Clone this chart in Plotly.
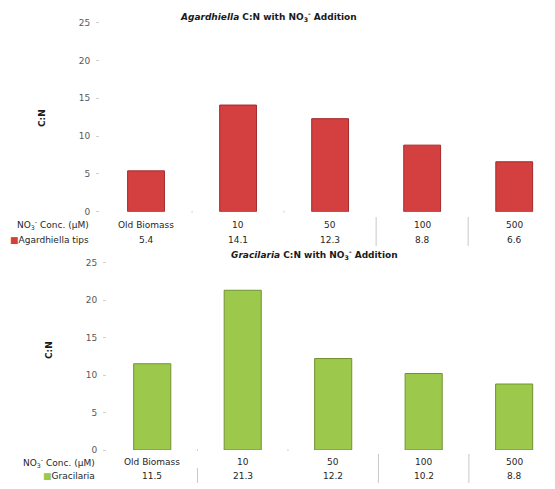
import plotly.graph_objects as go

categories = ["Old Biomass", "10", "50", "100", "500"]
agardhiella = [5.4, 14.1, 12.3, 8.8, 6.6]
gracilaria = [11.5, 21.3, 12.2, 10.2, 8.8]
y_ticks = [0, 5, 10, 15, 20, 25]

W, H = 555, 489
OFF = 8  # page body margin

def py(px):
    return 1 - (px - OFF) / H

def pxx(px):
    return (px - OFF) / W

RED, RED_LINE = "#d43f3f", "#a32a2a"
GREEN, GREEN_LINE = "#9cc84b", "#72922f"
FONT = "DejaVu Sans"
TXT = "#262626"

fig = go.Figure()
fig.add_trace(go.Bar(x=categories, y=agardhiella, xaxis="x", yaxis="y", width=0.40,
                     marker=dict(color=RED, line=dict(color=RED_LINE, width=1)),
                     showlegend=False, hoverinfo="x+y"))
fig.add_trace(go.Bar(x=categories, y=gracilaria, xaxis="x2", yaxis="y2", width=0.41,
                     marker=dict(color=GREEN, line=dict(color=GREEN_LINE, width=1)),
                     showlegend=False, hoverinfo="x+y"))

yax = dict(range=[0, 25], tickvals=y_ticks, showgrid=False, zeroline=False, showline=False,
           ticks="outside", ticklen=3, tickcolor="#d0d0d0", automargin=False,
           ticklabelstandoff=4,
           tickfont=dict(family=FONT, size=9, color="#595959"))
xax = dict(type="category", showgrid=False, zeroline=False, showline=False, automargin=False,
           showticklabels=False, ticks="")

fig.update_layout(
    width=W, height=H, margin=dict(l=0, r=0, t=0, b=0, pad=0, autoexpand=False),
    paper_bgcolor="white", plot_bgcolor="white",
    xaxis=dict(xax, domain=[pxx(100), 1], anchor="y", range=[-0.5, 4.53]),
    yaxis=dict(yax, domain=[py(211.7), py(22.6)], anchor="x"),
    xaxis2=dict(xax, domain=[pxx(107), 1], anchor="y2", range=[-0.5, 4.54]),
    yaxis2=dict(yax, domain=[py(450), py(262.5)], anchor="x2"),
    font=dict(family=FONT, color=TXT),
)

ann = []
def a(**kw):
    kw.setdefault("showarrow", False)
    kw.setdefault("xanchor", "center")
    kw.setdefault("yanchor", "middle")
    ann.append(kw)

a(text="<b><i>Agardhiella</i> C:N with NO<sub>3</sub><sup>-</sup> Addition</b>",
  x=pxx(268), y=py(16), xref="paper", yref="paper", font=dict(size=9, color="#1a1a1a"))
a(text="<b><i>Gracilaria</i> C:N with NO<sub>3</sub><sup>-</sup> Addition</b>",
  x=pxx(314), y=py(254), xref="paper", yref="paper", font=dict(size=9, color="#1a1a1a"))
a(text="<b>C:N</b>", x=pxx(42), y=py(118), xref="paper", yref="paper",
  textangle=-90, font=dict(size=9, color="#1a1a1a"))
a(text="<b>C:N</b>", x=pxx(49), y=py(350), xref="paper", yref="paper",
  textangle=-90, font=dict(size=9, color="#1a1a1a"))

def table(xref, y1, y2, name, color, values, rx):
    a(text="NO<sub>3</sub><sup>-</sup> Conc. (µM)", x=pxx(rx), y=py(y1),
      xref="paper", yref="paper", xanchor="right", font=dict(size=9, color=TXT))
    a(text=f"<span style='color:{color}'>■</span>{name}", x=pxx(rx), y=py(y2),
      xref="paper", yref="paper", xanchor="right", font=dict(size=9, color=TXT))
    for i, (c, v) in enumerate(zip(categories, values)):
        a(text=c, x=i, y=py(y1), xref=xref, yref="paper", font=dict(size=9, color=TXT))
        a(text=f"{v:.1f}", x=i, y=py(y2), xref=xref, yref="paper",
          font=dict(size=9, color=TXT))

table("x", 225, 240, "Agardhiella tips", RED, agardhiella, 91)
table("x2", 462, 476, "Gracilaria", GREEN, gracilaria, 97)

shapes = []
for xr, top, bot, seps in [("x", 217, 246, [2.5, 3.5]), ("x2", 454, 483, [2.5, 3.5])]:
    for s in seps:
        shapes.append(dict(type="line", xref=xr, yref="paper", x0=s, x1=s,
                           y0=py(top), y1=py(bot), line=dict(color="#c8c8c8", width=1)))
shapes.append(dict(type="line", xref="x2", yref="paper", x0=0.5, x1=0.5,
                   y0=py(468), y1=py(483), line=dict(color="#c8c8c8", width=1)))
for xr, yy in [("x", 211.7), ("x2", 450)]:
    for s in [0.5, 1.5]:
        shapes.append(dict(type="line", xref=xr, yref="paper", x0=s, x1=s,
                           y0=py(yy - 1), y1=py(yy + 1), line=dict(color="#d0d0d0", width=1)))

fig.update_layout(annotations=ann, shapes=shapes)
fig.write_html("out.html")
